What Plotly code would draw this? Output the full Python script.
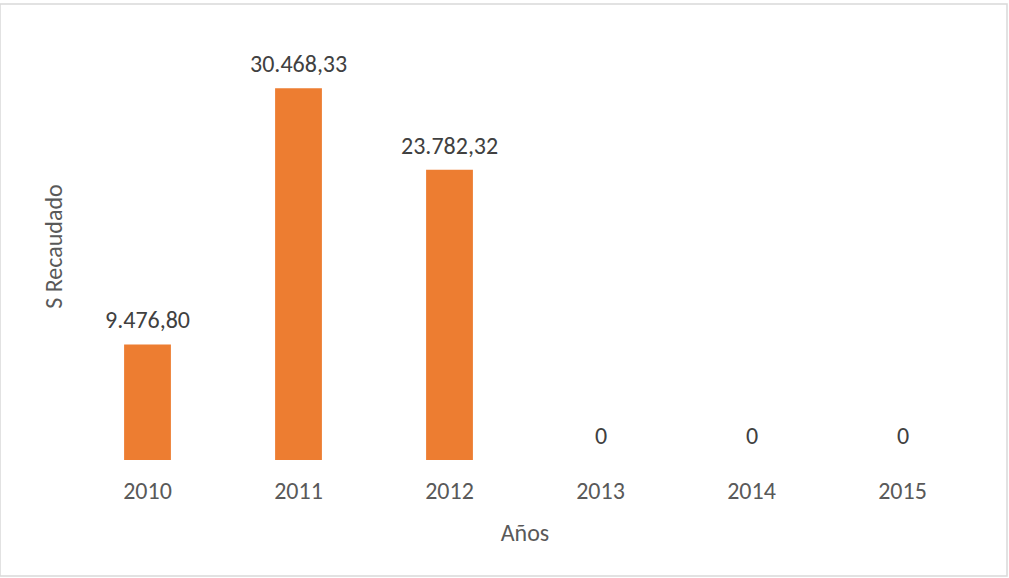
import plotly.graph_objects as go

# Recaudación anual
years = ["2010", "2011", "2012", "2013", "2014", "2015"]
recaudado = [9476.80, 30468.33, 23782.32, 0, 0, 0]


def fmt_es(v):
    """Formato numérico español: punto de miles, coma decimal."""
    if v == 0:
        return "0"
    s = f"{v:,.2f}"
    return s.replace(",", "X").replace(".", ",").replace("X", ".")


labels = [fmt_es(v) for v in recaudado]

FONT = "Carlito, 'Open Sans', sans-serif"
FS = 24

fig = go.Figure(
    go.Bar(
        x=years,
        y=recaudado,
        marker=dict(color="#ED7D31", line=dict(width=0)),
        hoverinfo="skip",
    )
)

# Etiquetas de valor sobre cada barra (posición por índice de categoría)
for i, (v, lab) in enumerate(zip(recaudado, labels)):
    fig.add_annotation(
        x=i, y=v, text=lab, showarrow=False,
        xanchor="center", yanchor="bottom", yshift=8,
        font=dict(family=FONT, size=FS, color="#404040"),
    )

fig.update_layout(
    width=1009,
    height=578,
    margin=dict(l=72, r=31, t=33, b=118),
    paper_bgcolor="white",
    plot_bgcolor="white",
    bargap=0.69,
    showlegend=False,
    font=dict(family=FONT, color="#595959"),
    xaxis=dict(
        type="category",
        range=[-0.5, len(years) - 0.5],
        showgrid=False, zeroline=False, showline=False, ticks="",
        tickfont=dict(family=FONT, size=FS, color="#595959"),
        ticklabelstandoff=14,
        title=dict(text="Años", font=dict(family=FONT, size=FS, color="#595959"), standoff=20),
    ),
    yaxis=dict(
        range=[0, 35000], showgrid=False, zeroline=False, showline=False,
        showticklabels=False, ticks="",
        title=dict(text="S Recaudado", font=dict(family=FONT, size=FS, color="#595959"), standoff=1),
    ),
    shapes=[
        dict(type="rect", xref="paper", yref="paper",
             x0=-72 / 906, x1=1 + 29 / 906, y0=-116 / 427, y1=1 + 29 / 427,
             line=dict(color="#D9D9D9", width=1.5), fillcolor="rgba(0,0,0,0)", layer="below"),
    ],
)

fig.write_html("out.html")
